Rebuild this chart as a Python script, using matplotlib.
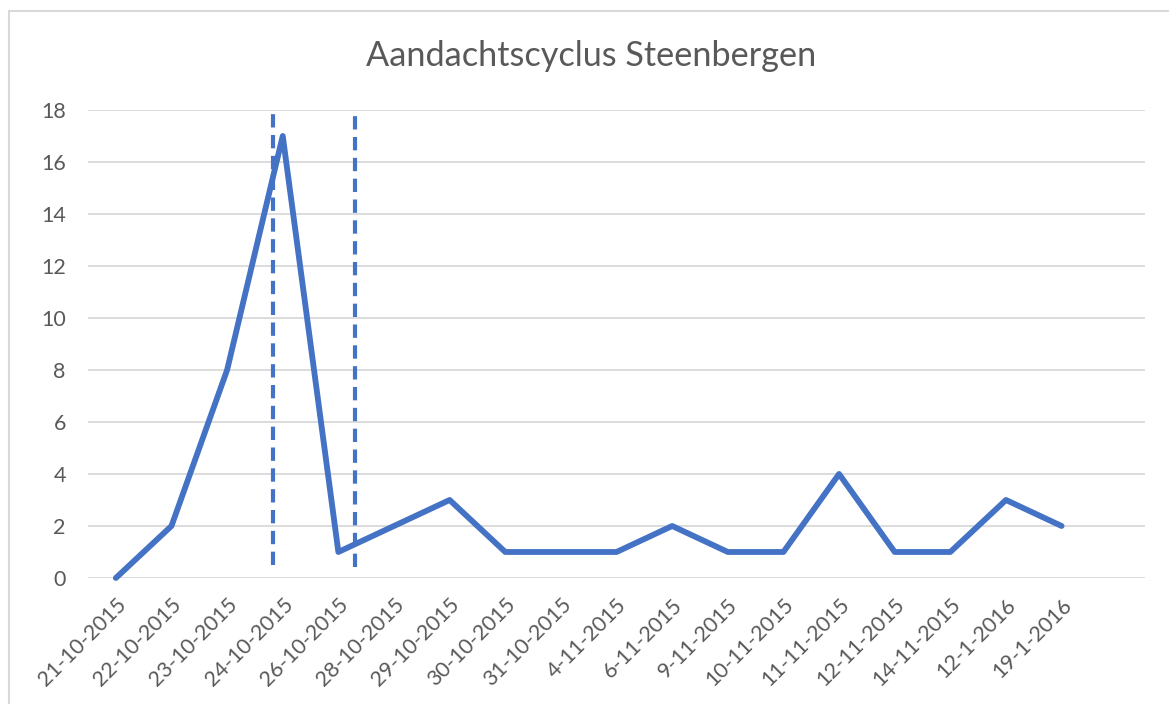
import numpy as np
import matplotlib.pyplot as plt
from matplotlib.patches import Rectangle

# Datos del grafico
datums = ['21-10-2015', '22-10-2015', '23-10-2015', '24-10-2015', '26-10-2015',
          '28-10-2015', '29-10-2015', '30-10-2015', '31-10-2015', '4-11-2015',
          '6-11-2015', '9-11-2015', '10-11-2015', '11-11-2015', '12-11-2015',
          '14-11-2015', '12-1-2016', '19-1-2016']
aantallen = [0, 2, 8, 17, 1, 2, 3, 1, 1, 1, 2, 1, 1, 4, 1, 1, 3, 2]
y_ticks = [0, 2, 4, 6, 8, 10, 12, 14, 16, 18]

# Gestippelde markeringslijnen (positie op de categorie-as, onder- en bovenkant)
markering_x = [2.82, 4.30]
markering_onder = [0.5, 0.42]
markering_boven = [18.0, 17.85]

blauw = '#4472C4'
grijs = '#595959'
plt.rcParams['font.family'] = ['Lato', 'DejaVu Sans']

fig = plt.figure(figsize=(11.69, 7.04), dpi=100)
ax = fig.add_axes([0.0753, 0.179, 0.9042, 0.6648])

# Rand rond het grafiekgebied
fig.patches.append(Rectangle((9 / 1169, -0.01), 1.02, 1 - 11 / 704 + 0.01,
                             transform=fig.transFigure, fill=False,
                             edgecolor='#D9D9D9', linewidth=1.5))

x = np.arange(len(datums))
ax.plot(x, aantallen, color=blauw, linewidth=4.2, solid_joinstyle='round',
        solid_capstyle='round', zorder=3, clip_on=False)

for mx, lo, hi in zip(markering_x, markering_onder, markering_boven):
    ax.plot([mx, mx], [lo, hi], color=blauw, linewidth=3.0,
            linestyle=(0, (3.2, 1.8)), zorder=4, clip_on=False)

ax.set_xlim(-0.5, 18.5)
ax.set_ylim(0, 18)
ax.set_yticks(y_ticks)
ax.set_xticks(x)
ax.set_xticklabels(datums, rotation=45, ha='right', rotation_mode='anchor')
ax.tick_params(axis='x', length=0, pad=12, labelsize=15.5, labelcolor=grijs)
ax.tick_params(axis='y', length=0, pad=16, labelsize=15.5, labelcolor=grijs)

ax.grid(axis='y', color='#D9D9D9', linewidth=1.3)
ax.set_axisbelow(True)
for s in ax.spines.values():
    s.set_visible(False)

fig.text(0.506, 0.92, 'Aandachtscyclus Steenbergen', ha='center', va='center',
         fontsize=24.7, color=grijs)

plt.savefig('out.png', dpi=100)
